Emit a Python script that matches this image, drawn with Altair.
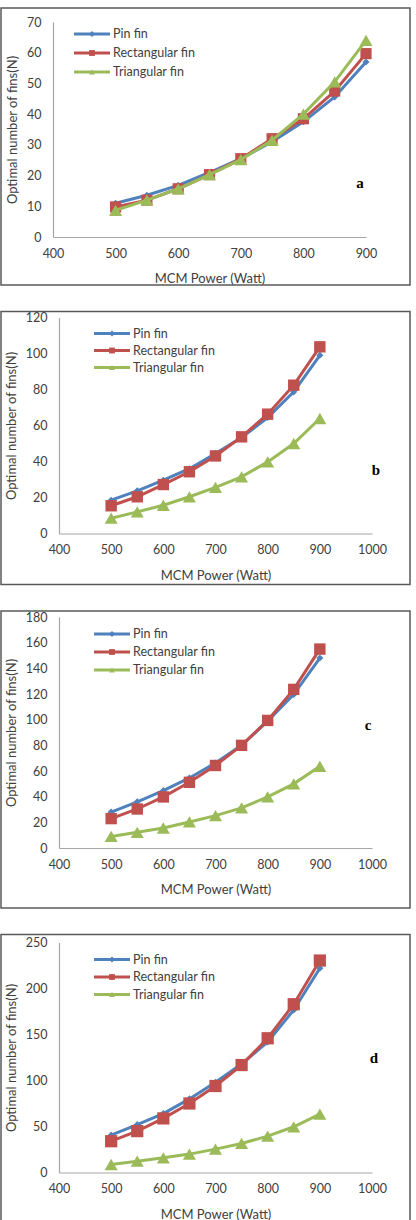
import altair as alt
import pandas as pd

# ---------------- data ----------------
power = [500, 550, 600, 650, 700, 750, 800, 850, 900]
series_names = ["Pin fin", "Rectangular fin", "Triangular fin"]

a_pin = [11, 13.6, 16.8, 21, 25.5, 31, 37.5, 45.6, 57]
a_rect = [9.8, 12, 15.7, 20.3, 25.5, 32, 38.5, 47.5, 59.7]
a_tri = [8.7, 12, 15.7, 20.3, 25.2, 31.5, 40, 50.5, 64]

b_pin = [18.5, 23.7, 29.6, 36, 44.4, 53.3, 64.4, 78.7, 99]
b_rect = [15.4, 20.4, 27.2, 34.3, 43.1, 53.7, 66.3, 82.4, 103.7]
b_tri = [8.5, 12, 15.7, 20.4, 25.6, 31.5, 39.8, 50, 63.9]

c_pin = [28, 36, 44.7, 54.6, 66.3, 80, 98.8, 119.7, 148]
c_rect = [22.9, 30.4, 39.8, 51.2, 64.3, 80, 99.4, 123.6, 155]
c_tri = [9, 12.2, 15.6, 20.3, 25.2, 31.2, 39.8, 50, 63.7]

d_pin = [40.6, 52, 64, 80, 98, 118, 142, 176.7, 222]
d_rect = [34, 45, 58.8, 75, 94, 116.8, 145.9, 182.9, 230.4]
d_tri = [8.7, 12.3, 16, 20, 25.4, 31.6, 39.5, 49.7, 63.5]

x_title = "MCM Power (Watt)"
y_title = "Optimal number of fins(N)"

# ---------------- style ----------------
COLORS = ["#4F81BD", "#C0504D", "#9BBB59"]
SHAPES = ["diamond", "square", "triangle-up"]
FONT = "Lato"
TEXT_COLOR = "#404040"

color_scale = alt.Scale(domain=series_names, range=COLORS)
shape_scale = alt.Scale(domain=series_names, range=SHAPES)


def make_panel(pin, rect, tri, ymax, ystep, xmax, height, frame_y, legend_y,
               letter, letter_xy, x_range=None, y_offset=0, sq_size=130):
    rows = []
    for name, vals in zip(series_names, [pin, rect, tri]):
        for p, v in zip(power, vals):
            rows.append({"power": p, "N": v, "series": name})
    df = pd.DataFrame(rows)

    if x_range is not None:
        xscale = alt.Scale(domain=[400, xmax], nice=False, range=x_range)
    else:
        xscale = alt.Scale(domain=[400, xmax], nice=False)
    yscale = alt.Scale(domain=[0, ymax], nice=False)

    x_enc = alt.X("power:Q", scale=xscale, title=x_title,
                  axis=alt.Axis(values=list(range(400, xmax + 1, 100)), format="d",
                                labelFlush=False, labelPadding=10, titlePadding=13))
    y_enc = alt.Y("N:Q", scale=yscale, title=y_title,
                  axis=alt.Axis(values=list(range(0, ymax + 1, ystep)), format="d",
                                labelPadding=12, titlePadding=7, offset=y_offset))

    base = alt.Chart(df)
    layers = []
    sizes = [50, sq_size, 170]
    for i, name in enumerate(series_names):
        sub = base.transform_filter(alt.datum.series == name)
        line = sub.mark_line(strokeWidth=3).encode(
            x=x_enc, y=y_enc,
            color=alt.Color("series:N", scale=color_scale, legend=None),
        )
        pts = sub.mark_point(filled=True, opacity=1, size=sizes[i]).encode(
            x=x_enc, y=y_enc,
            color=alt.Color("series:N", scale=color_scale, legend=None),
            shape=alt.Shape("series:N", scale=shape_scale, legend=None),
        )
        layers += [line, pts]
    data_layer = alt.layer(*layers)

    # legend (inside the plot, top-left)
    leg_df = pd.DataFrame({"series": series_names})
    leg = alt.Chart(leg_df)
    ly = alt.Y("series:N", axis=None,
               scale=alt.Scale(type="point", domain=series_names,
                               range=legend_y, padding=0))
    lx0 = 15 if x_range is not None else 35
    leg_line = leg.mark_rule(strokeWidth=3).encode(
        x=alt.value(lx0), x2=alt.value(lx0 + 36), y=ly,
        color=alt.Color("series:N", scale=color_scale, legend=None))
    leg_pt = leg.mark_point(filled=True, opacity=1, size=34).encode(
        x=alt.value(lx0 + 18), y=ly,
        color=alt.Color("series:N", scale=color_scale, legend=None),
        shape=alt.Shape("series:N", scale=shape_scale, legend=None))
    leg_txt = leg.mark_text(align="left", baseline="middle", font=FONT,
                            fontSize=12.5, color=TEXT_COLOR).encode(
        x=alt.value(lx0 + 39), y=ly, text="series:N")
    legend_layer = alt.layer(leg_line, leg_pt, leg_txt)

    # panel letter and frame
    one = pd.DataFrame({"k": [0]})
    letter_mark = alt.Chart(one).mark_text(
        font="Liberation Serif", fontWeight="bold", fontSize=15,
        color="#000000", align="center", baseline="middle").encode(
        x=alt.value(letter_xy[0]), y=alt.value(letter_xy[1]),
        text=alt.value(letter))
    frame = alt.Chart(one).mark_rect(
        fill="transparent", stroke="#595959", strokeWidth=1.5).encode(
        x=alt.value(-58), x2=alt.value(351),
        y=alt.value(frame_y[0]), y2=alt.value(frame_y[1]))

    return alt.layer(data_layer, legend_layer, letter_mark, frame).resolve_scale(
        y="independent").properties(width=313, height=height)


pa = make_panel(a_pin, a_rect, a_tri, 70, 10, 900, 215, (-14, 263),
                [12, 50], "a", (301, 161), x_range=[-6, 307], y_offset=6, sq_size=125)
pb = make_panel(b_pin, b_rect, b_tri, 120, 20, 1000, 216, (-6, 267),
                [16, 50], "b", (317, 152))
pc = make_panel(c_pin, c_rect, c_tri, 180, 20, 1000, 231, (-6, 291),
                [17, 53], "c", (309, 108))
pd_ = make_panel(d_pin, d_rect, d_tri, 250, 50, 1000, 230, (-8, 310),
                 [17, 52], "d", (315, 115), sq_size=150)

chart = alt.vconcat(pa, pb, pc, pd_, spacing=24.5).properties(
    padding={"left": 0, "top": 7, "right": 4, "bottom": 0}
).configure_view(strokeWidth=0).configure_axis(
    labelFont=FONT, labelFontSize=12.5, labelColor=TEXT_COLOR,
    titleFont=FONT, titleFontSize=13, titleFontWeight="normal",
    titleColor=TEXT_COLOR, domainColor="#a6a6a6", domainWidth=1.2,
    ticks=False, grid=False
)

chart.save("out.html", embed_options={"renderer": "svg", "actions": False})
